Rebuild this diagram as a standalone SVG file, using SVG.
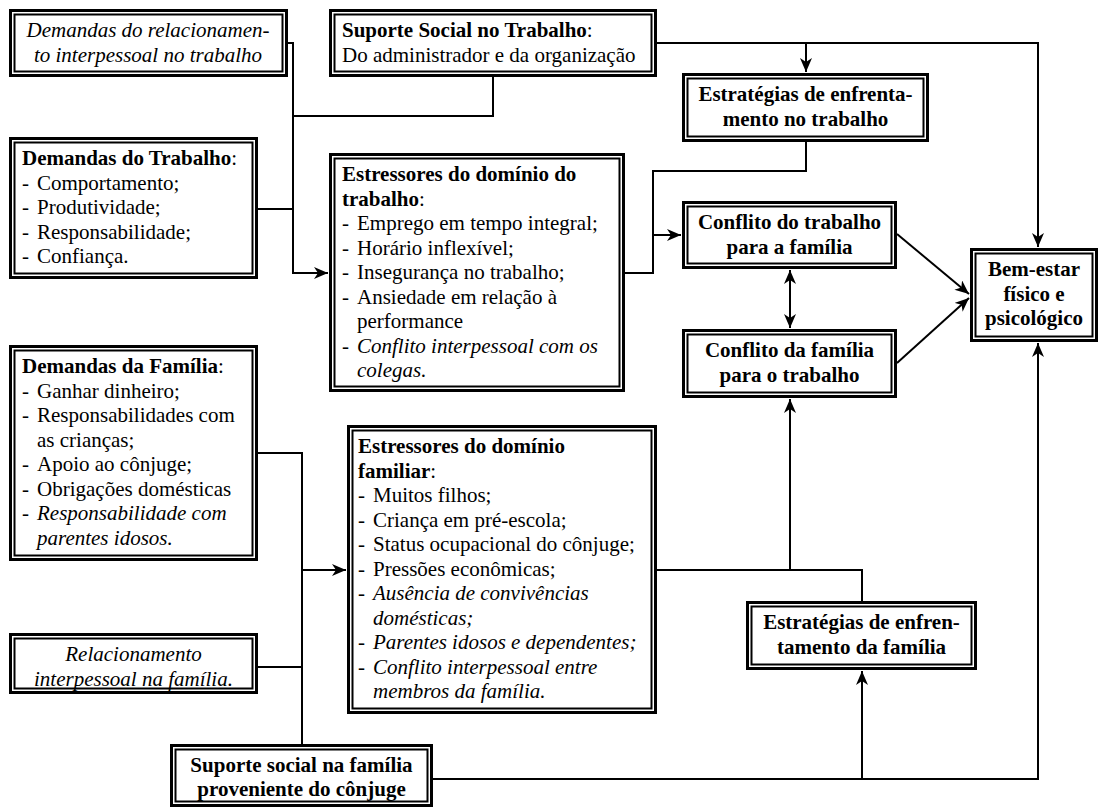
<svg xmlns="http://www.w3.org/2000/svg" width="1102" height="809" viewBox="0 0 1102 809">
  <style>
    .t { font-family: "Liberation Serif", "Times New Roman", serif; font-size: 21px; fill: #000; }
    .b { font-weight: bold; }
    .i { font-style: italic; }
    .c { text-anchor: middle; }
    .o { fill: #fff; stroke: #000; stroke-width: 3; }
    .n { fill: none; stroke: #000; stroke-width: 2; }
    .w { fill: none; stroke: #000; stroke-width: 2; }
    .a { marker-end: url(#ah); }
  </style>
  <defs>
    <marker id="ah" viewBox="0 0 14 12" refX="14" refY="6" markerWidth="14" markerHeight="12" markerUnits="userSpaceOnUse" orient="auto-start-reverse">
      <path d="M0,0 L14,6 L0,12 L4,6 Z" fill="#000"/>
    </marker>
  </defs>

  <rect width="1102" height="809" fill="#fff"/>

  <!-- connectors -->
  <g id="connectors">
    <!-- work demands into work-domain stressors -->
    <path class="w" d="M288,43 H293 V273 H328" marker-end="url(#ah)"/>
    <path class="w" d="M258,209 H293"/>
    <path class="w" d="M493,77 V116 H293"/>
    <!-- work social support -->
    <path class="w" d="M657,43 H1038 V247" marker-end="url(#ah)"/>
    <path class="w" d="M806,43 V72" marker-end="url(#ah)"/>
    <!-- work-domain stressors and coping into work-to-family conflict -->
    <path class="w" d="M625,273 H653 V171 H806 V142"/>
    <path class="w" d="M653,235 H681" marker-end="url(#ah)"/>
    <!-- reciprocal conflict -->
    <path class="w" d="M790,270 V328" marker-start="url(#ah)" marker-end="url(#ah)"/>
    <!-- conflicts into well-being -->
    <path class="w" d="M897,234 L969,294" marker-end="url(#ah)"/>
    <path class="w" d="M897,363 L969,298" marker-end="url(#ah)"/>
    <!-- family demands into family-domain stressors -->
    <path class="w" d="M258,453 H302 V744"/>
    <path class="w" d="M302,570 H346" marker-end="url(#ah)"/>
    <path class="w" d="M258,667 H302"/>
    <!-- family-domain stressors into family-to-work conflict -->
    <path class="w" d="M657,570 H862 V601"/>
    <path class="w" d="M790,570 V399" marker-end="url(#ah)"/>
    <!-- spouse support -->
    <path class="w" d="M433,779 H1038 V343" marker-end="url(#ah)"/>
    <path class="w" d="M862,779 V671" marker-end="url(#ah)"/>
  </g>

  <!-- nodes -->
  <g id="rel-trabalho">
    <rect class="o" x="10.5" y="10.5" width="276" height="65"/>
    <rect class="n" x="14.5" y="14.5" width="268" height="57"/>
    <text class="t i c" x="148" y="37">Demandas do relacionamen-</text>
    <text class="t i c" x="148" y="61.5">to interpessoal no trabalho</text>
  </g>

  <g id="suporte-trabalho">
    <rect class="o" x="330.5" y="10.5" width="325" height="65"/>
    <rect class="n" x="334.5" y="14.5" width="317" height="57"/>
    <text class="t" x="342" y="37"><tspan class="b">Suporte Social no Trabalho</tspan>:</text>
    <text class="t" x="342" y="61.5">Do administrador e da organização</text>
  </g>

  <g id="demandas-trabalho">
    <rect class="o" x="10.5" y="138.5" width="246" height="139"/>
    <rect class="n" x="14.5" y="142.5" width="238" height="131"/>
    <text class="t" x="22" y="165"><tspan class="b">Demandas do Trabalho</tspan>:</text>
    <text class="t" y="189.5"><tspan x="22">-</tspan><tspan x="37">Comportamento;</tspan></text>
    <text class="t" y="214"><tspan x="22">-</tspan><tspan x="37">Produtividade;</tspan></text>
    <text class="t" y="238.5"><tspan x="22">-</tspan><tspan x="37">Responsabilidade;</tspan></text>
    <text class="t" y="263"><tspan x="22">-</tspan><tspan x="37">Confiança.</tspan></text>
  </g>

  <g id="estressores-trabalho">
    <rect class="o" x="330.5" y="154.5" width="293" height="236"/>
    <rect class="n" x="334.5" y="158.5" width="285" height="228"/>
    <text class="t b" x="342" y="181">Estressores do domínio do</text>
    <text class="t" x="342" y="205.5"><tspan class="b">trabalho</tspan>:</text>
    <text class="t" y="230"><tspan x="342">-</tspan><tspan x="357">Emprego em tempo integral;</tspan></text>
    <text class="t" y="254.5"><tspan x="342">-</tspan><tspan x="357">Horário inflexível;</tspan></text>
    <text class="t" y="279"><tspan x="342">-</tspan><tspan x="357">Insegurança no trabalho;</tspan></text>
    <text class="t" y="303.5"><tspan x="342">-</tspan><tspan x="357">Ansiedade em relação à</tspan></text>
    <text class="t" x="357" y="328">performance</text>
    <text class="t" y="352.5"><tspan x="342">-</tspan><tspan class="i" x="357">Conflito interpessoal com os</tspan></text>
    <text class="t i" x="357" y="377">colegas.</text>
  </g>

  <g id="estrategias-trabalho">
    <rect class="o" x="683.5" y="74.5" width="244" height="66"/>
    <rect class="n" x="687.5" y="78.5" width="236" height="58"/>
    <text class="t b c" x="805.5" y="101">Estratégias de enfrenta-</text>
    <text class="t b c" x="805.5" y="125.5">mento no trabalho</text>
  </g>

  <g id="conflito-trabalho-familia">
    <rect class="o" x="683.5" y="202.5" width="212" height="65"/>
    <rect class="n" x="687.5" y="206.5" width="204" height="57"/>
    <text class="t b c" x="789.5" y="229">Conflito do trabalho</text>
    <text class="t b c" x="789.5" y="253.5">para a família</text>
  </g>

  <g id="conflito-familia-trabalho">
    <rect class="o" x="683.5" y="330.5" width="212" height="66"/>
    <rect class="n" x="687.5" y="334.5" width="204" height="58"/>
    <text class="t b c" x="789.5" y="357">Conflito da família</text>
    <text class="t b c" x="789.5" y="381.5">para o trabalho</text>
  </g>

  <g id="bem-estar">
    <rect class="o" x="971.5" y="249.5" width="125" height="91"/>
    <rect class="n" x="975.5" y="253.5" width="117" height="83"/>
    <text class="t b c" x="1034" y="276">Bem-estar</text>
    <text class="t b c" x="1034" y="300.5">físico e</text>
    <text class="t b c" x="1034" y="325">psicológico</text>
  </g>

  <g id="demandas-familia">
    <rect class="o" x="10.5" y="346.5" width="246" height="213"/>
    <rect class="n" x="14.5" y="350.5" width="238" height="205"/>
    <text class="t" x="22" y="373"><tspan class="b">Demandas da Família</tspan>:</text>
    <text class="t" y="397.5"><tspan x="22">-</tspan><tspan x="37">Ganhar dinheiro;</tspan></text>
    <text class="t" y="422"><tspan x="22">-</tspan><tspan x="37">Responsabilidades com</tspan></text>
    <text class="t" x="37" y="446.5">as crianças;</text>
    <text class="t" y="471"><tspan x="22">-</tspan><tspan x="37">Apoio ao cônjuge;</tspan></text>
    <text class="t" y="495.5"><tspan x="22">-</tspan><tspan x="37">Obrigações domésticas</tspan></text>
    <text class="t" y="520"><tspan x="22">-</tspan><tspan class="i" x="37">Responsabilidade com</tspan></text>
    <text class="t i" x="37" y="544.5">parentes idosos.</text>
  </g>

  <g id="estressores-familia">
    <rect class="o" x="348.5" y="426.5" width="307" height="286"/>
    <rect class="n" x="352.5" y="430.5" width="299" height="278"/>
    <text class="t b" x="358" y="453">Estressores do domínio</text>
    <text class="t" x="358" y="477.5"><tspan class="b">familiar</tspan>:</text>
    <text class="t" y="502"><tspan x="358">-</tspan><tspan x="373">Muitos filhos;</tspan></text>
    <text class="t" y="526.5"><tspan x="358">-</tspan><tspan x="373">Criança em pré-escola;</tspan></text>
    <text class="t" y="551"><tspan x="358">-</tspan><tspan x="373">Status ocupacional do cônjuge;</tspan></text>
    <text class="t" y="575.5"><tspan x="358">-</tspan><tspan x="373">Pressões econômicas;</tspan></text>
    <text class="t" y="600"><tspan x="358">-</tspan><tspan class="i" x="373">Ausência de convivências</tspan></text>
    <text class="t i" x="373" y="624.5">domésticas;</text>
    <text class="t" y="649"><tspan x="358">-</tspan><tspan class="i" x="373">Parentes idosos e dependentes;</tspan></text>
    <text class="t" y="673.5"><tspan x="358">-</tspan><tspan class="i" x="373">Conflito interpessoal entre</tspan></text>
    <text class="t i" x="373" y="698">membros da família.</text>
  </g>

  <g id="relacionamento-familia">
    <rect class="o" x="10.5" y="634.5" width="246" height="58"/>
    <rect class="n" x="14.5" y="638.5" width="238" height="50"/>
    <text class="t i c" x="133.5" y="661">Relacionamento</text>
    <text class="t i c" x="133.5" y="685.5">interpessoal na família.</text>
  </g>

  <g id="suporte-familia">
    <rect class="o" x="171.5" y="745.5" width="260" height="60"/>
    <rect class="n" x="175.5" y="749.5" width="252" height="52"/>
    <text class="t b c" x="301.5" y="772">Suporte social na família</text>
    <text class="t b c" x="301.5" y="796">proveniente do cônjuge</text>
  </g>

  <g id="estrategias-familia">
    <rect class="o" x="747.5" y="602.5" width="228" height="66"/>
    <rect class="n" x="751.5" y="606.5" width="220" height="58"/>
    <text class="t b c" x="861.5" y="629">Estratégias de enfren-</text>
    <text class="t b c" x="861.5" y="653.5">tamento da família</text>
  </g>
</svg>
